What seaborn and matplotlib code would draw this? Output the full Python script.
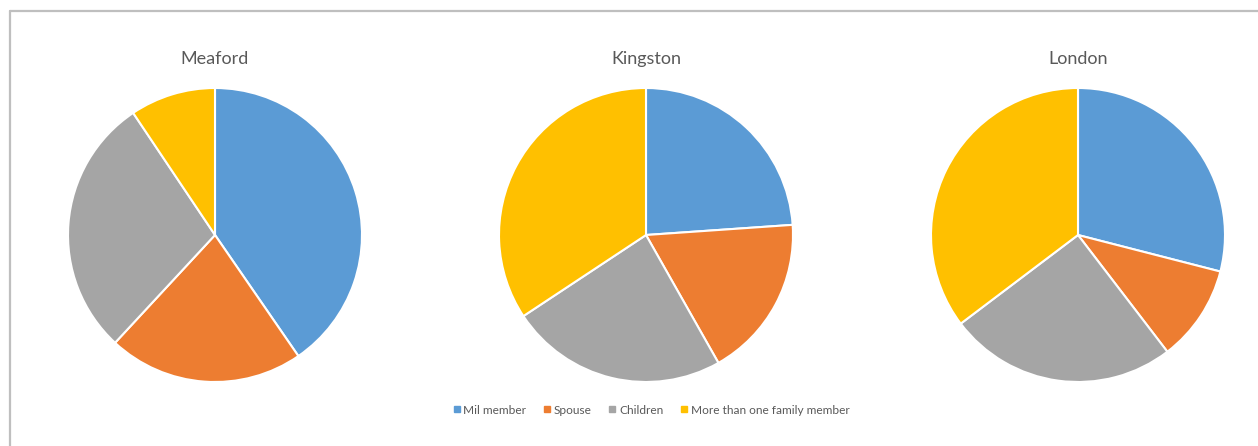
import matplotlib
matplotlib.use('Agg')
import matplotlib.pyplot as plt
from matplotlib.lines import Line2D
import seaborn as sns

# shares per location (percent)
locations = ['Meaford', 'Kingston', 'London']
categories = ['Mil member', 'Spouse', 'Children', 'More than one family member']
mil_member = [40.4, 23.9, 29.0]
spouse = [21.5, 17.9, 10.6]
children = [28.7, 23.9, 25.1]
more_than_one = [9.4, 34.3, 35.3]

colors = ['#5B9BD5', '#ED7D31', '#A5A5A5', '#FFC000']

sns.set_style('white')
sns.set_palette(colors)
plt.rcParams['font.family'] = ['Lato', 'DejaVu Sans']

W, H = 1258, 446
fig = plt.figure(figsize=(W / 100, H / 100), dpi=100)

centers = [215, 646, 1078]
cy, r = 235, 147

for i, loc in enumerate(locations):
    ax = fig.add_axes([(centers[i] - r) / W, (H - cy - r) / H, 2 * r / W, 2 * r / H])
    vals = [mil_member[i], spouse[i], children[i], more_than_one[i]]
    ax.pie(vals, colors=sns.color_palette(), startangle=90, counterclock=False,
           wedgeprops=dict(edgecolor='white', linewidth=1.5))
    ax.set_xlim(-1.0, 1.0)
    ax.set_ylim(-1.0, 1.0)
    ax.axis('off')
    fig.text(centers[i] / W, 1 - 59 / H, loc, ha='center', va='center',
             fontsize=13, color='#595959')

# legend along the bottom
handles = [Line2D([], [], marker='s', linestyle='none', markersize=5,
                  markerfacecolor=c, markeredgecolor=c) for c in colors]
fig.legend(handles, categories, loc='center', bbox_to_anchor=(650 / W, 1 - 410 / H),
           ncol=4, frameon=False, fontsize=8.6, handletextpad=0.05, columnspacing=1.25,
           labelcolor='#595959', handlelength=1.0)

# chart area border (cropped on the right and bottom)
border = '#BFBFBF'
fig.add_artist(Line2D([9.5 / W, 9.5 / W], [0, 1 - 11 / H], color=border, lw=1.6,
                      transform=fig.transFigure))
fig.add_artist(Line2D([9.5 / W, 1], [1 - 11 / H, 1 - 11 / H], color=border, lw=1.6,
                      transform=fig.transFigure))

fig.savefig('out.png', dpi=100, facecolor='white')
